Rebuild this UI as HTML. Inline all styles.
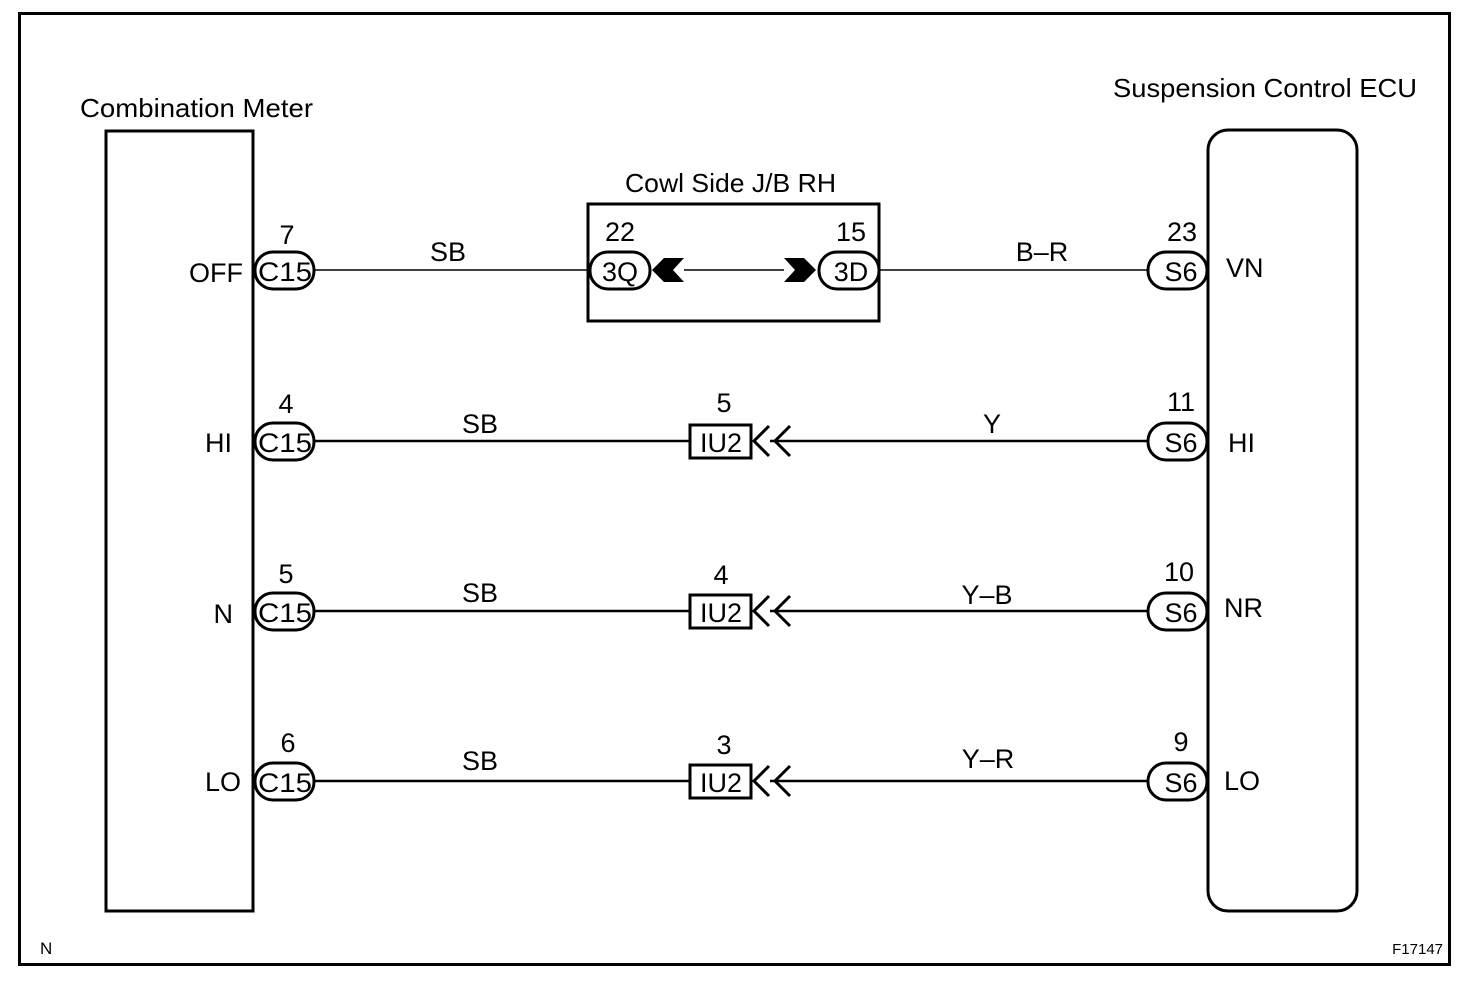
<!DOCTYPE html>
<html><head><meta charset="utf-8"><style>
html,body{margin:0;padding:0;background:#fff;}
svg{display:block;}
text{font-family:"Liberation Sans",sans-serif;fill:#000;}
</style></head><body>
<svg width="1472" height="982" viewBox="0 0 1472 982" xmlns="http://www.w3.org/2000/svg">
<rect x="19.5" y="13.5" width="1430" height="951" fill="none" stroke="#000" stroke-width="3"/>
<text x="80" y="117" font-size="26" textLength="233" lengthAdjust="spacingAndGlyphs">Combination Meter</text>
<text x="1113" y="97" font-size="26" textLength="304" lengthAdjust="spacingAndGlyphs">Suspension Control ECU</text>
<rect x="106" y="131" width="147" height="780" fill="none" stroke="#000" stroke-width="3"/>
<rect x="1208" y="130" width="149" height="781" rx="20" fill="none" stroke="#000" stroke-width="3"/>
<text x="625" y="192" font-size="26" textLength="211" lengthAdjust="spacingAndGlyphs">Cowl Side J/B RH</text>
<rect x="588" y="204" width="291" height="117" fill="none" stroke="#000" stroke-width="3"/>

<line x1="314" y1="270" x2="590" y2="270" stroke="#000" stroke-width="1.5"/>
<line x1="684" y1="270" x2="784" y2="270" stroke="#000" stroke-width="1.5"/>
<line x1="879" y1="270" x2="1148" y2="270" stroke="#000" stroke-width="1.5"/>
<g stroke="#000" stroke-width="2.5">
<line x1="314" y1="441" x2="689" y2="441"/><line x1="770" y1="441" x2="1148" y2="441"/>
<line x1="314" y1="611" x2="689" y2="611"/><line x1="770" y1="611" x2="1148" y2="611"/>
<line x1="314" y1="781" x2="689" y2="781"/><line x1="770" y1="781" x2="1148" y2="781"/>
</g>

<g fill="#fff" stroke="#000" stroke-width="3">
<rect x="255" y="252" width="59" height="37" rx="18"/>
<rect x="255" y="423" width="59" height="37" rx="18"/>
<rect x="255" y="593" width="59" height="37" rx="18"/>
<rect x="255" y="763" width="59" height="37" rx="18"/>
<rect x="1148" y="252" width="59" height="37" rx="18"/>
<rect x="1148" y="423" width="59" height="37" rx="18"/>
<rect x="1148" y="593" width="59" height="37" rx="18"/>
<rect x="1148" y="763" width="59" height="37" rx="18"/>
<rect x="590" y="252" width="60" height="37" rx="18"/>
<rect x="819" y="252" width="60" height="37" rx="18"/>
<rect x="690" y="425" width="61" height="33"/>
<rect x="690" y="595" width="61" height="33"/>
<rect x="690" y="765" width="61" height="33"/>
</g>
<line x1="253" y1="131" x2="253" y2="911" stroke="#000" stroke-width="3"/>
<line x1="1208" y1="150" x2="1208" y2="890" stroke="#000" stroke-width="3"/>

<polygon points="652,270 664,258 684,258 673,270 684,282 664,282" fill="#000"/>
<polygon points="784,258 804,258 816,270 804,282 784,282 795,270" fill="#000"/>

<g fill="none" stroke="#000" stroke-width="3">
<polyline points="769,426 754,441 769,456"/><polyline points="790,426 775,441 790,456"/>
<polyline points="769,596 754,611 769,626"/><polyline points="790,596 775,611 790,626"/>
<polyline points="769,766 754,781 769,796"/><polyline points="790,766 775,781 790,796"/>
</g>

<g font-size="27" text-anchor="middle">
<text x="285" y="281" textLength="54" lengthAdjust="spacingAndGlyphs">C15</text><text x="285" y="452" textLength="54" lengthAdjust="spacingAndGlyphs">C15</text><text x="285" y="622" textLength="54" lengthAdjust="spacingAndGlyphs">C15</text><text x="285" y="792" textLength="54" lengthAdjust="spacingAndGlyphs">C15</text>
<text x="1181" y="281">S6</text><text x="1181" y="452">S6</text><text x="1181" y="622">S6</text><text x="1181" y="792">S6</text>
<text x="620" y="281">3Q</text><text x="851" y="281">3D</text>
<text x="721" y="452">IU2</text><text x="721" y="622">IU2</text><text x="721" y="792">IU2</text>
<text x="287" y="244">7</text><text x="286" y="413">4</text><text x="286" y="583">5</text><text x="288" y="752">6</text>
<text x="620" y="241">22</text><text x="851" y="241">15</text>
<text x="1182" y="241">23</text><text x="1181" y="411">11</text><text x="1179" y="581">10</text><text x="1181" y="751">9</text>
<text x="724" y="412">5</text><text x="721" y="584">4</text><text x="724" y="754">3</text>
<text x="448" y="261">SB</text><text x="480" y="433">SB</text><text x="480" y="602">SB</text><text x="480" y="770">SB</text>
<text x="1042" y="261">B–R</text><text x="992" y="433">Y</text><text x="987" y="604">Y–B</text><text x="988" y="768">Y–R</text>
</g>
<g font-size="27" text-anchor="end">
<text x="243" y="282">OFF</text><text x="232" y="452">HI</text><text x="233" y="623">N</text><text x="241" y="791">LO</text>
</g>
<g font-size="27">
<text x="1226" y="277">VN</text><text x="1228" y="452">HI</text><text x="1224" y="617">NR</text><text x="1224" y="790">LO</text>
</g>
<text x="40" y="954" font-size="17">N</text>
<text x="1443" y="954" font-size="15" text-anchor="end">F17147</text>
</svg>
</body></html>
